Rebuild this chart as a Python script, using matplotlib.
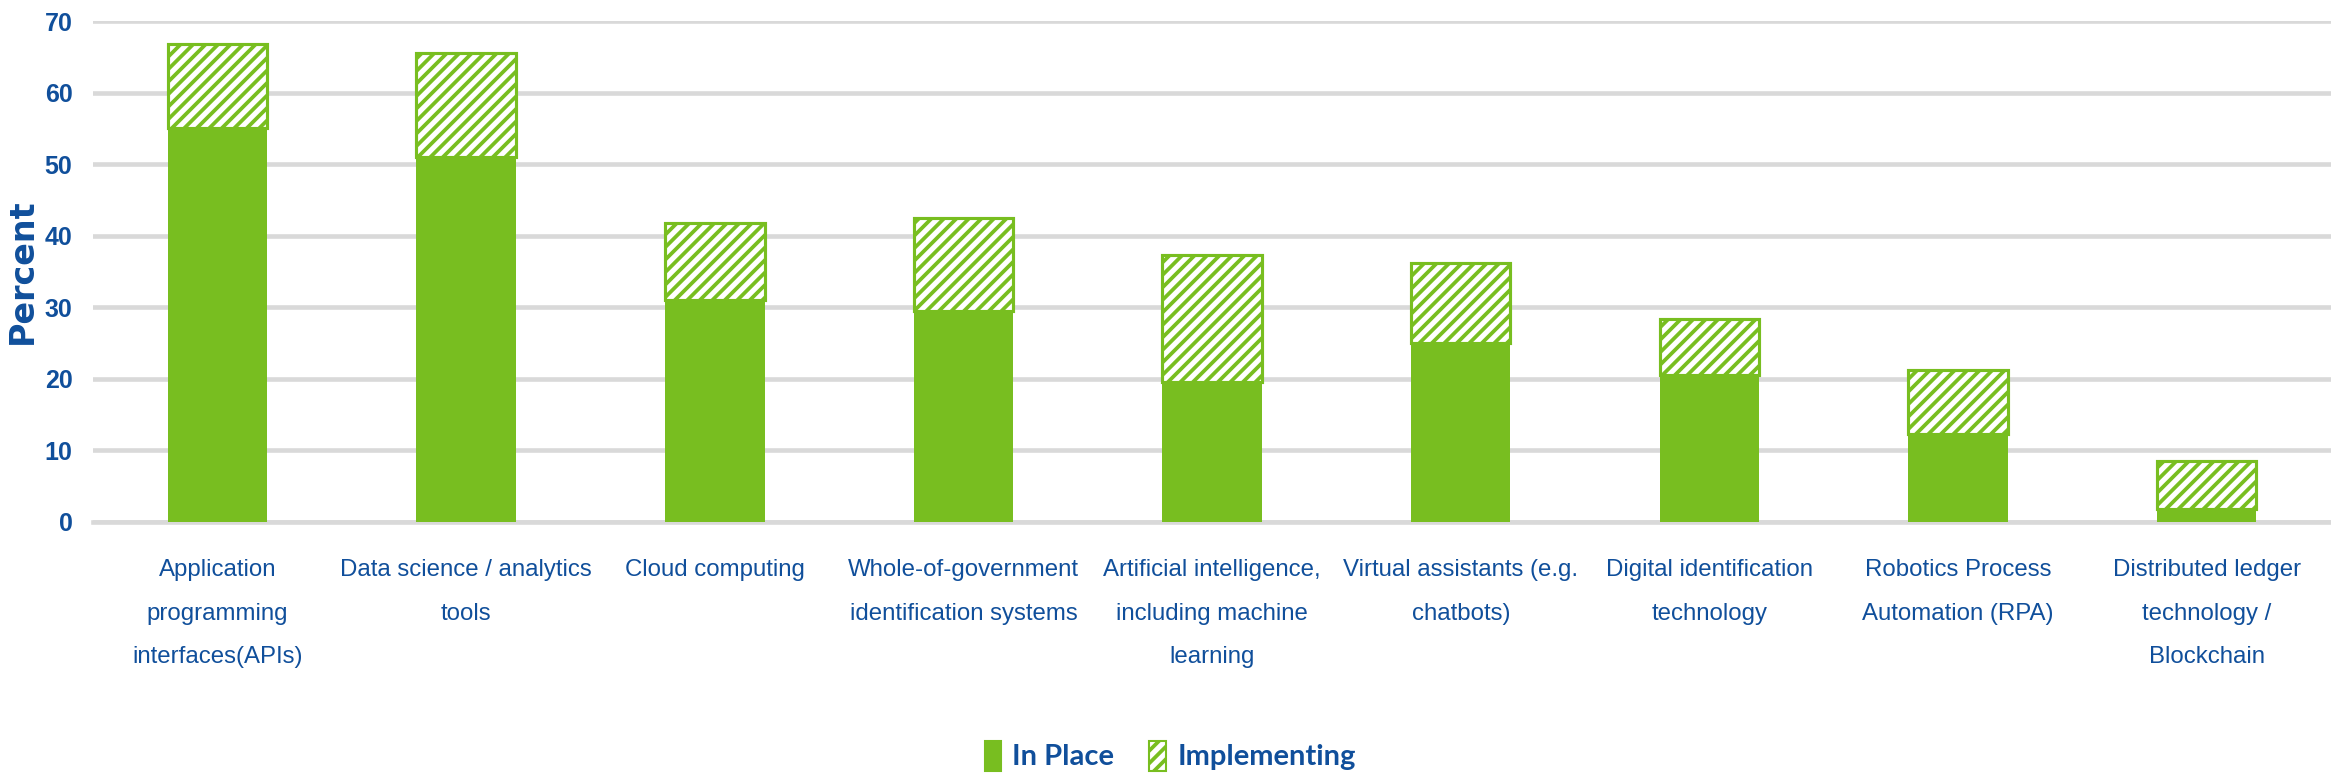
import numpy as np
import matplotlib
matplotlib.use('Agg')
from matplotlib import pyplot as plt
from matplotlib.patches import Patch

# data
categories = ['Application\nprogramming\ninterfaces(APIs)',
              'Data science / analytics\ntools',
              'Cloud computing',
              'Whole-of-government\nidentification systems',
              'Artificial intelligence,\nincluding machine\nlearning',
              'Virtual assistants (e.g.\nchatbots)',
              'Digital identification\ntechnology',
              'Robotics Process\nAutomation (RPA)',
              'Distributed ledger\ntechnology /\nBlockchain']
in_place = [55.0, 51.0, 31.0, 29.5, 19.5, 25.0, 20.5, 12.3, 1.8]
implementing = [11.8, 14.6, 10.8, 13.0, 17.8, 11.2, 7.8, 8.9, 6.7]
yticks = [0, 10, 20, 30, 40, 50, 60, 70]

green = '#78BE20'
blue = '#104F9B'
grid = '#D9D9D9'

plt.rcParams['hatch.linewidth'] = 1.8
plt.rcParams['hatch.color'] = green

fig = plt.figure(figsize=(2331/150, 779/150), dpi=150)
ax = fig.add_axes([0.04, 0.33, 0.96, 0.643])

x = np.arange(len(categories))
ax.bar(x, in_place, width=0.4, color=green, zorder=3)
ax.bar(x, implementing, width=0.4, bottom=in_place, facecolor='white',
       edgecolor=green, hatch='////', linewidth=1.5, zorder=3)

ax.set_xlim(-0.5, len(categories) - 0.5)
ax.set_ylim(0, 70)
ax.set_yticks(yticks)
ax.yaxis.grid(True, color=grid, linewidth=2.2, zorder=0)
ax.set_axisbelow(True)
for s in ['top', 'right', 'left']:
    ax.spines[s].set_visible(False)
ax.spines['bottom'].set_color(grid)
ax.spines['bottom'].set_linewidth(2.2)
ax.tick_params(axis='both', length=0)
ax.tick_params(axis='y', pad=10)
ax.tick_params(axis='x', pad=18)

ax.set_xticks(x)
ax.set_xticklabels(categories, fontsize=11.5, color=blue, linespacing=2.25,
                   family='Liberation Sans', va='top')
for t in ax.get_yticklabels():
    t.set_fontsize(12)
    t.set_color(blue)
    t.set_fontweight('bold')
    t.set_family('Liberation Sans')

fig.text(0.0096, 0.652, 'Percent', rotation=90, ha='center', va='center',
         fontsize=16, fontweight='bold', color=blue, family='DejaVu Sans')

handles = [Patch(facecolor=green, edgecolor=green),
           Patch(facecolor='white', edgecolor=green, hatch='////')]
fig.legend(handles, ['In Place', 'Implementing'], loc='center',
           bbox_to_anchor=(0.502, 0.03), ncol=2, frameon=False,
           prop={'family': 'Lato', 'weight': 'bold', 'size': 14},
           labelcolor=blue, handlelength=0.55, handleheight=1.2,
           handletextpad=0.4, columnspacing=1.2)

fig.savefig('out.png', dpi=150)
